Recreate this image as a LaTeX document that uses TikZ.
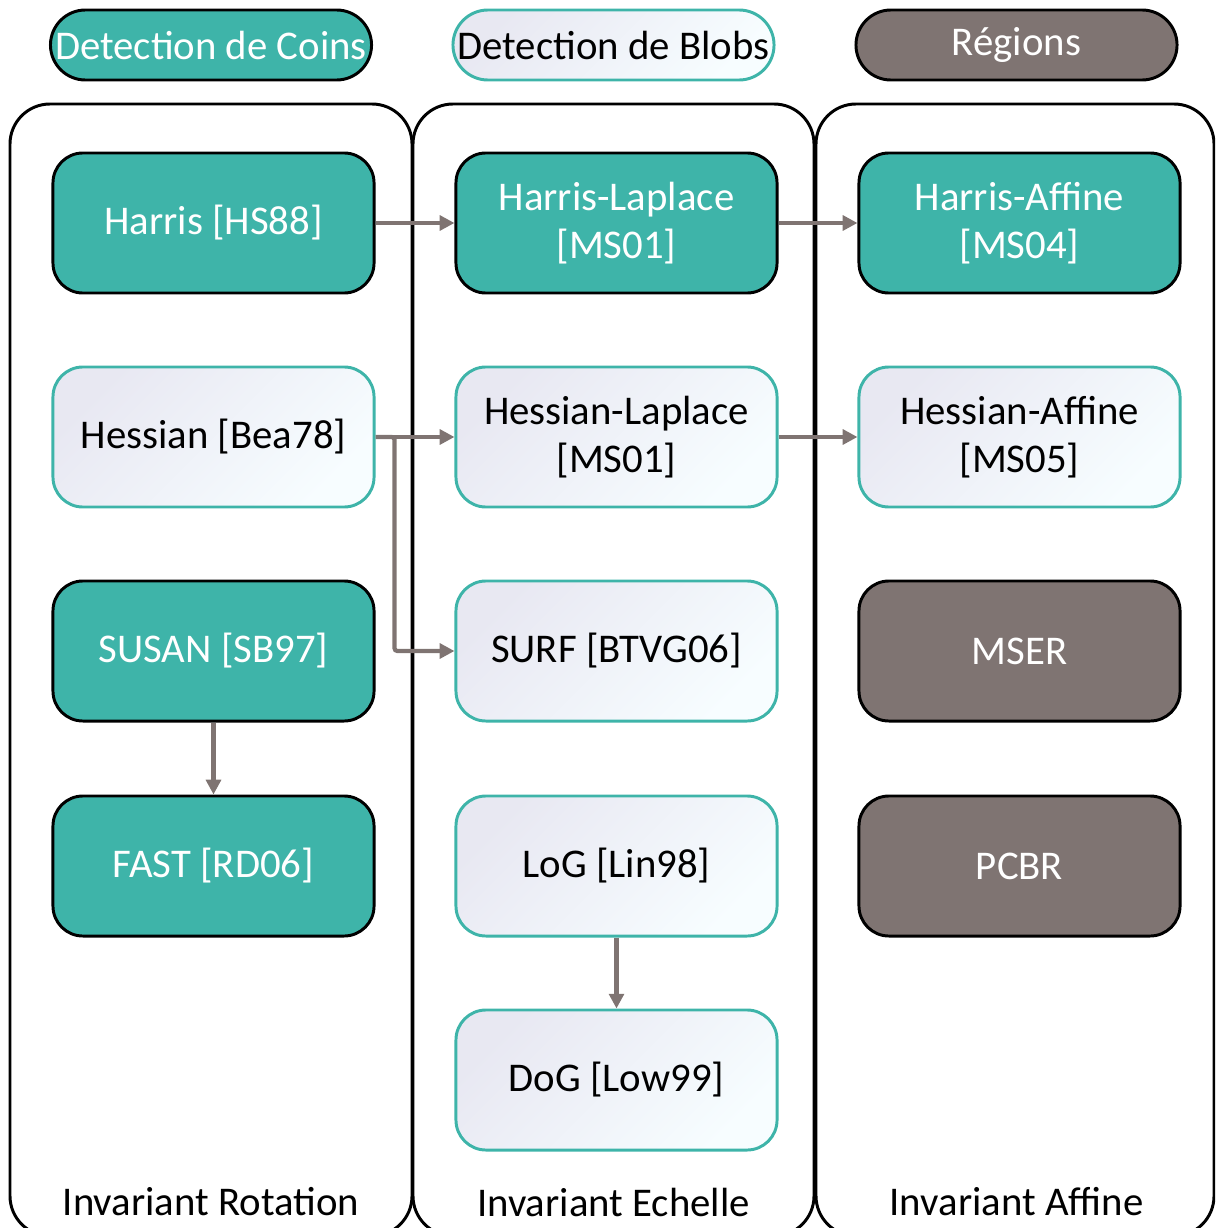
\documentclass[tikz,border=0pt]{standalone}
\usepackage{fontspec}
\setmainfont{Carlito}
\usetikzlibrary{arrows.meta}
\definecolor{tealfill}{RGB}{62,180,169}
\definecolor{greyfill}{RGB}{127,116,114}
\definecolor{lavender}{RGB}{232,232,242}
\definecolor{icewhite}{RGB}{247,253,255}
\definecolor{arrowgrey}{RGB}{127,116,114}
\tikzset{
  lbl/.style={font=\fontsize{29}{34.5}\selectfont, align=center},
  box/.style={lbl, rounded corners=0.75cm, minimum width=8.025cm, minimum height=3.5cm, inner sep=0pt, line width=2.1pt},
  tealbox/.style={box, draw=black, fill=tealfill, text=white},
  greybox/.style={box, draw=black, fill=greyfill, text=white},
  lightbox/.style={box, draw=tealfill, top color=lavender, bottom color=icewhite, shading angle=45, text=black},
  pill/.style={lbl, rounded corners=0.875cm, minimum width=8.025cm, minimum height=1.75cm, inner sep=0pt, line width=2.1pt},
  tealpill/.style={pill, draw=black, fill=tealfill, text=white},
  lightpill/.style={pill, draw=tealfill, top color=lavender, bottom color=icewhite, shading angle=45, text=black},
  greypill/.style={pill, draw=black, fill=greyfill, text=white},
  panel/.style={draw=black, line width=2.1pt, rounded corners=1cm},
  flow/.style={draw=arrowgrey, line width=3pt, -{Triangle[length=10.5pt,width=10.5pt]}},
}
\begin{document}
\begin{tikzpicture}[x=0.025cm, y=-0.025cm]
\useasboundingbox (0,0) rectangle (1215,1228);
\begin{scope}
\clip (0,0) rectangle (1215,1228);
% column panels
\draw[panel] (10,104) rectangle (412,1236);
\draw[panel] (413,104) rectangle (814,1236);
\draw[panel] (816,104) rectangle (1214,1236);
\end{scope}

% column headers
\node[tealpill]  (hcoins)   at (211,45)   {Detection de Coins};
\node[lightpill] (hblobs)   at (613.5,45) {Detection de Blobs};
\node[greypill]  (hregions) at (1016.5,45) {Régions};

% corner detectors
\node[tealbox]  (harris)  at (213.5,223) {Harris [HS88]};
\node[lightbox] (hessian) at (213.5,437) {Hessian [Bea78]};
\node[tealbox]  (susan)   at (213.5,651) {SUSAN [SB97]};
\node[tealbox]  (fast)    at (213.5,866) {FAST [RD06]};

% blob detectors
\node[tealbox]  (harlap)  at (616.5,223)  {Harris-Laplace\\{}[MS01]};
\node[lightbox] (heslap)  at (616.5,437)  {Hessian-Laplace\\{}[MS01]};
\node[lightbox] (surf)    at (616.5,651)  {SURF [BTVG06]};
\node[lightbox] (log)     at (616.5,866)  {LoG [Lin98]};
\node[lightbox] (dog)     at (616.5,1080) {DoG [Low99]};

% region detectors
\node[tealbox]  (haraff)  at (1019.5,223) {Harris-Affine\\{}[MS04]};
\node[lightbox] (hesaff)  at (1019.5,437) {Hessian-Affine\\{}[MS05]};
\node[greybox]  (mser)    at (1019.5,651) {MSER};
\node[greybox]  (pcbr)    at (1019.5,866) {PCBR};

% column footers
\node[lbl] (frot) at (211,1202)   {Invariant Rotation};
\node[lbl] (fech) at (613.5,1202) {Invariant Echelle};
\node[lbl] (faff) at (1016.5,1202) {Invariant Affine};

% connectors
\draw[flow] (harris.east) -- (harlap.west);
\draw[flow] (harlap.east) -- (haraff.west);
\draw[flow] (hessian.east) -- (heslap.west);
\draw[flow] (heslap.east) -- (hesaff.west);
\draw[flow, rounded corners=2pt] (hessian.east) -- ++(19,0) |- (surf.west);
\draw[flow] (susan.south) -- (fast.north);
\draw[flow] (log.south) -- (dog.north);
\end{tikzpicture}
\end{document}
